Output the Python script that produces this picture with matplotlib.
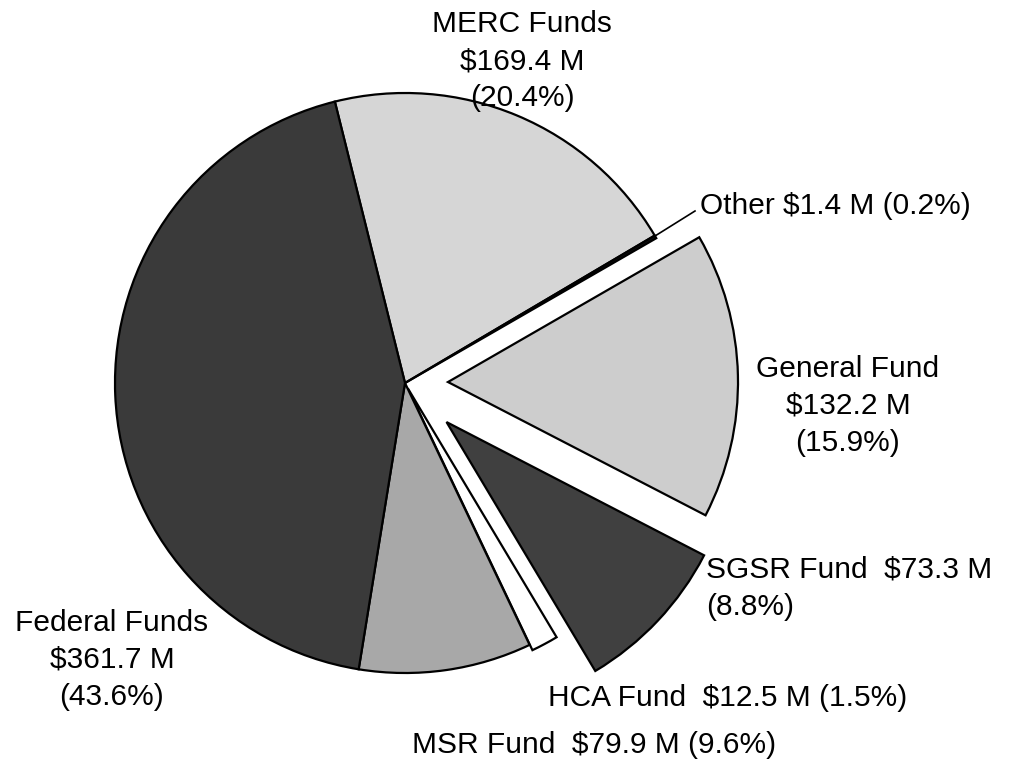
"""Fund sources pie chart (exploded wedges, greyscale)."""
import matplotlib.pyplot as plt
import matplotlib as mpl

# Data, in wedge order (clockwise from the top)
funds = ["MERC Funds", "Other", "General Fund", "SGSR Fund", "HCA Fund",
         "MSR Fund", "Federal Funds"]
amounts = [169.4, 1.4, 132.2, 73.3, 12.5, 79.9, 361.7]
shares = ["20.4%", "0.2%", "15.9%", "8.8%", "1.5%", "9.6%", "43.6%"]

# Styling
COLORS = ["#d6d6d6", "#111111", "#cdcdcd", "#404040", "#ffffff",
          "#a8a8a8", "#3a3a3a"]
W, H = 1018, 761
CX, CY, R = 405, 383, 290
# pie() offsets wedges by explode in data units, so give them in pixels
EXPLODE = [0, 0, 43, 57, 6, 0, 0]
LS = 1.42

mpl.rcParams.update({
    "font.family": ["Liberation Sans", "DejaVu Sans"],
    "font.size": 21.5,
})


def py(y):
    """Pixel row (top-down) to data y."""
    return H - y


fig = plt.figure(figsize=(W / 100, H / 100), dpi=100)
ax = fig.add_axes([0, 0, 1, 1])

ax.pie(amounts, colors=COLORS, explode=EXPLODE, startangle=104,
       counterclock=False, center=(CX, py(CY)), radius=R,
       wedgeprops={"edgecolor": "black", "linewidth": 1.6})

# pie() resets the limits, so set the pixel frame afterwards
ax.set_xlim(0, W)
ax.set_ylim(0, H)
ax.set_aspect("equal")
ax.axis("off")

lab = {f: (f, a, s) for f, a, s in zip(funds, amounts, shares)}


def money(a):
    return f"${a:.1f} M"


f, a, s = lab["MERC Funds"]
ax.text(522, py(61), f"{f}\n{money(a)}\n({s})", ha="center", va="center",
        linespacing=LS)

f, a, s = lab["Other"]
ax.text(700, py(206), f"{f} {money(a)} ({s})", ha="left", va="center")
ax.plot([655, 695], [py(236), py(211)], color="black", lw=1.2)

f, a, s = lab["General Fund"]
ax.text(848, py(406), f"{f}\n{money(a)}\n({s})", ha="center", va="center",
        linespacing=LS)

f, a, s = lab["SGSR Fund"]
ax.text(706, py(588), f"{f}  {money(a)}\n({s})", ha="left", va="center",
        linespacing=LS)

f, a, s = lab["HCA Fund"]
ax.text(548, py(698), f"{f}  {money(a)} ({s})", ha="left", va="center")

f, a, s = lab["MSR Fund"]
ax.text(412, py(745), f"{f}  {money(a)} ({s})", ha="left", va="center")

f, a, s = lab["Federal Funds"]
ax.text(112, py(660), f"{f}\n{money(a)}\n({s})", ha="center", va="center",
        linespacing=LS)

fig.savefig("out.png", dpi=100, facecolor="white")
